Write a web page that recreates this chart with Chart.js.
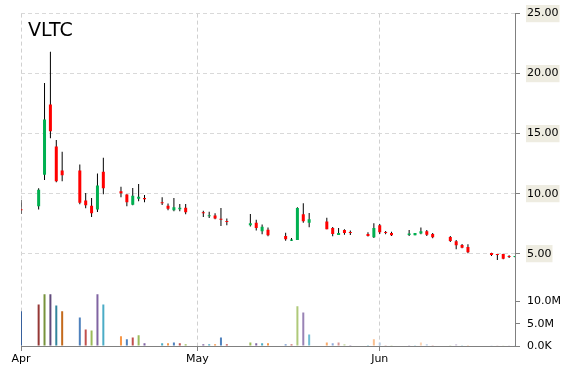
<!DOCTYPE html>
<html>
<head>
<meta charset="utf-8">
<title>VLTC</title>
<script src="https://cdn.jsdelivr.net/npm/chart.js@4/dist/chart.umd.min.js"></script>
<style>
  body { margin: 0; background: #fff; }
  #wrap { position: relative; width: 570px; height: 370px; }
  #ticker { position: absolute; left: 28px; top: 20px; font: 19px "DejaVu Sans", sans-serif; line-height: 19px; color: #000; }
</style>
</head>
<body>
<div id="wrap">
  <canvas id="chart" width="570" height="370"></canvas>
  <div id="ticker">VLTC</div>
</div>
<script>
// trading day, counted in calendar days from Apr 1
const days = [0, 3, 4, 5, 6, 7, 10, 11, 12, 13, 14, 17, 18, 19, 20, 21, 24, 25, 26, 27, 28,
  31, 32, 33, 34, 35, 39, 40, 41, 42, 45, 46, 47, 48, 49, 52, 53, 54, 55, 56, 59, 60,
  61, 62, 63, 66, 67, 68, 69, 70, 73, 74, 75, 76, 80, 81, 82, 83, 84];
const opens = [8.66, 8.94, 11.58, 17.42, 13.92, 11.92, 11.92, 9.42, 9.00, 8.67, 11.83, 10.19, 9.92, 9.08, 9.58, 9.64, 9.27, 9.00, 8.61, 8.69, 8.83,
  8.40, 8.11, 8.17, 7.85, 7.67, 7.36, 7.58, 6.86, 7.00, 6.47, 6.08, 6.14, 8.28, 7.58, 7.67, 7.14, 6.56, 6.97, 6.78, 6.64, 6.36,
  7.36, 6.78, 6.72, 6.56, 6.53, 6.67, 6.86, 6.64, 6.39, 6.03, 5.72, 5.56, 5.06, 4.90, 4.97, 4.78, 4.72];
const highs = [9.47, 10.44, 19.22, 21.83, 14.47, 13.50, 12.42, 10.06, 9.64, 11.67, 13.00, 10.58, 9.95, 10.47, 10.81, 9.89, 9.69, 9.17, 9.64, 9.14, 9.14,
  8.58, 8.50, 8.36, 8.81, 7.92, 8.31, 7.83, 7.42, 7.17, 6.75, 6.31, 8.86, 9.19, 8.39, 8.00, 7.22, 7.14, 7.03, 6.92, 6.78, 7.53,
  7.47, 6.89, 6.83, 6.97, 6.72, 7.17, 6.97, 6.72, 6.47, 6.14, 5.81, 5.78, 5.08, 4.97, 5.00, 4.86, 4.78];
const lows = [8.31, 8.67, 11.14, 14.61, 10.94, 11.03, 9.11, 8.78, 8.06, 8.47, 9.94, 9.69, 8.94, 9.03, 9.36, 9.28, 9.06, 8.61, 8.53, 8.53, 8.28,
  8.06, 7.97, 7.86, 7.31, 7.36, 7.27, 6.92, 6.61, 6.44, 6.08, 6.06, 6.14, 7.58, 7.19, 7.03, 6.44, 6.56, 6.58, 6.56, 6.42, 6.31,
  6.64, 6.61, 6.47, 6.47, 6.53, 6.61, 6.47, 6.28, 5.97, 5.36, 5.44, 5.03, 4.81, 4.47, 4.53, 4.64, 4.70];
const closes = [8.62, 10.33, 16.17, 15.19, 11.03, 11.53, 9.25, 9.03, 8.36, 10.67, 10.44, 10.03, 9.28, 9.83, 9.75, 9.53, 9.20, 8.75, 8.86, 8.83, 8.44,
  8.36, 8.19, 7.92, 7.83, 7.63, 7.53, 7.14, 7.25, 6.53, 6.19, 6.17, 8.81, 7.69, 7.86, 7.03, 6.64, 6.72, 6.72, 6.72, 6.47, 7.14,
  6.78, 6.72, 6.53, 6.67, 6.72, 6.86, 6.58, 6.36, 6.06, 5.69, 5.50, 5.11, 4.89, 4.88, 4.58, 4.72, 4.76];
const volumes = [7.8, 9.3, 11.6, 11.6, 9.1, 7.8, 6.4, 3.7, 3.5, 11.6, 9.3, 2.2, 1.5, 1.9, 2.4, 0.6, 0.6, 0.6, 0.8, 0.6, 0.4,
  0.4, 0.4, 0.4, 1.9, 0.4, 0.8, 0.6, 0.6, 0.6, 0.4, 0.4, 8.9, 7.5, 2.6, 0.8, 0.6, 0.8, 0.4, 0.2, 0.2, 1.5,
  0.8, 0.2, 0.2, 0.2, 0.2, 0.8, 0.4, 0.2, 0.2, 0.4, 0.2, 0.2, 0.15, 0.15, 0.15, 0.15, 0.15].map(v => v * 1e6);

const monthTicks = [0, 30, 61];
const monthLabels = ['Apr', 'May', 'Jun'];
const priceTicks = [5, 10, 15, 20, 25];
const priceTickLabels = ['5.00', '10.00', '15.00', '20.00', '25.00'];
const volumeTicks = [0, 5e6, 10e6];
const volumeTickLabels = ['0.0K', '5.0M', '10.0M'];

// volume bars cycle through six hues, getting lighter along the way
const volPalettes = [
  ['#37609c', '#953735', '#77933c', '#604a7b', '#31859c', '#c46a1c'],
  ['#4f81bd', '#c0504d', '#9bbb59', '#8064a2', '#4bacc6', '#f79646'],
  ['#7396cc', '#cd7371', '#afc97a', '#9983b5', '#6fbdd3', '#f9ab6b'],
  ['#8faadc', '#d99694', '#c3d69b', '#b3a2c7', '#93cddd', '#fac090'],
  ['#b9cde5', '#e6b9b8', '#d7e4bd', '#ccc1da', '#b7dee8', '#fcd5b5']
];
function volColor(i) {
  const c = Math.floor(i / 6);
  const lvl = c === 0 ? 0 : c <= 4 ? 1 : c === 5 ? 2 : c === 6 ? 3 : 4;
  return volPalettes[lvl][i % 6];
}

const bodies = days.map((d, i) => ({ x: d, y: [opens[i], closes[i]] }));
const wicks = days.map((d, i) => ({ x: d, y: [lows[i], highs[i]] }));
const vols = days.map((d, i) => ({ x: d, y: volumes[i] }));
const bodyColors = days.map((d, i) => closes[i] >= opens[i] ? '#00b050' : '#ff0000');
const volColors = days.map((d, i) => volColor(i));

const tickFont = { family: 'DejaVu Sans', size: 11 };

new Chart(document.getElementById('chart'), {
  type: 'bar',
  data: {
    datasets: [
      { label: 'body', data: bodies, backgroundColor: bodyColors, barThickness: 3, minBarLength: 1, yAxisID: 'price', order: 0 },
      { label: 'wick', data: wicks, backgroundColor: '#000', barThickness: 1, yAxisID: 'price', order: 1 },
      { label: 'volume', data: vols, backgroundColor: volColors, barThickness: 2, yAxisID: 'volume', order: 2 }
    ]
  },
  options: {
    responsive: false,
    animation: false,
    datasets: { bar: { grouped: false, inflateAmount: 0 } },
    layout: { padding: { left: 21, top: 13, right: 0, bottom: 0 } },
    plugins: { legend: { display: false }, tooltip: { enabled: false } },
    scales: {
      x: {
        type: 'linear', min: 0, max: 84, offset: false,
        afterBuildTicks: s => { s.ticks = monthTicks.map(v => ({ value: v })); },
        afterFit: s => { s.height = 24; },
        ticks: { autoSkip: false, maxRotation: 0, padding: 2, color: '#000', font: tickFont,
          callback: (v, i) => monthLabels[i] },
        grid: { offset: false, color: '#d0d0d0', tickColor: '#808080', tickLength: 5, tickBorderDash: [] },
        border: { color: '#808080', dash: [4, 3] }
      },
      price: {
        type: 'linear', position: 'right', stack: 'right', stackWeight: 4.48, min: 2.36, max: 25,
        afterBuildTicks: s => { s.ticks = priceTicks.map(v => ({ value: v })); },
        afterFit: s => { s.width = 55; },
        ticks: { padding: 7, color: '#000', font: tickFont, callback: (v, i) => priceTickLabels[i],
          showLabelBackdrop: true, backdropColor: '#eeece1', backdropPadding: { x: 1, y: 2 } },
        grid: { color: '#d9d9d9', tickColor: '#808080', tickLength: 5, tickBorderDash: [] },
        border: { color: '#808080', dash: [4, 3] }
      },
      volume: {
        type: 'linear', position: 'right', stack: 'right', stackWeight: 1, min: 0, max: 13.6e6,
        afterBuildTicks: s => { s.ticks = volumeTicks.map(v => ({ value: v })); },
        afterFit: s => { s.width = 55; },
        ticks: { padding: 7, color: '#000', font: tickFont, callback: (v, i) => volumeTickLabels[i] },
        grid: { drawOnChartArea: false, color: '#808080', tickLength: 5 },
        border: { color: '#808080' }
      }
    }
  }
});
</script>
</body>
</html>
